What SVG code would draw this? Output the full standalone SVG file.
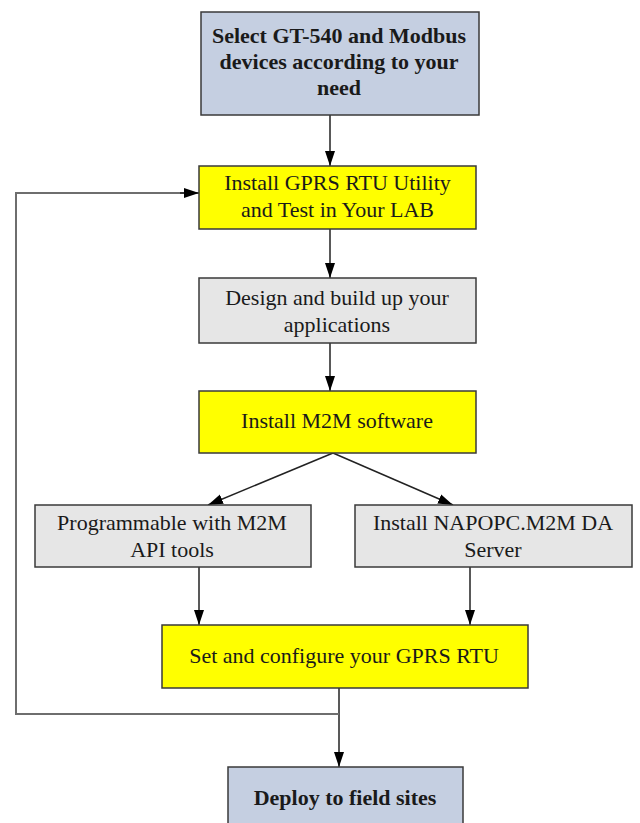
<svg xmlns="http://www.w3.org/2000/svg" width="640" height="823" viewBox="0 0 640 823">
<style>
  .box{stroke:#3a3a3a;stroke-width:1.5}
  .blue{fill:#c5cfe1}
  .yel{fill:#ffff00}
  .gry{fill:#e6e6e6}
  text{font-family:"Liberation Serif","Times New Roman",serif;font-size:22px;fill:#1a1a1a;text-anchor:middle}
  .b{font-weight:bold}
  .c{stroke:#222;stroke-width:1.5;fill:none}
  .fb{stroke:#6e6e6e;stroke-width:2;fill:none}
</style>
<defs>
  <marker id="ah" markerUnits="userSpaceOnUse" markerWidth="15" markerHeight="12" viewBox="0 0 15 12" refX="15" refY="6" orient="auto">
    <path d="M0,1 L15,6 L0,11 Z" fill="#000"/>
  </marker>
</defs>
<rect width="640" height="823" fill="#fff"/>
<g id="connectors">
  <line class="c" x1="330" y1="115" x2="330" y2="166" marker-end="url(#ah)"/>
  <line class="c" x1="330" y1="229" x2="330" y2="278" marker-end="url(#ah)"/>
  <line class="c" x1="330" y1="343" x2="330" y2="391" marker-end="url(#ah)"/>
  <line class="c" x1="333" y1="453" x2="208" y2="505" marker-end="url(#ah)"/>
  <line class="c" x1="333" y1="453" x2="453" y2="505" marker-end="url(#ah)"/>
  <line class="c" x1="199" y1="567" x2="199" y2="625" marker-end="url(#ah)"/>
  <line class="c" x1="470" y1="567" x2="470" y2="625" marker-end="url(#ah)"/>
  <line class="c" x1="339" y1="688" x2="339" y2="767" marker-end="url(#ah)"/>
  <polyline class="fb" points="339,714 16,714 16,193 186,193"/>
  <line class="c" x1="180" y1="193" x2="199" y2="193" marker-end="url(#ah)"/>
</g>
<g id="n1">
  <rect class="box blue" x="201" y="12" width="278" height="103"/>
  <text class="b" x="339" y="43">Select GT-540 and Modbus</text>
  <text class="b" x="339" y="69">devices according to your</text>
  <text class="b" x="339" y="95">need</text>
</g>
<g id="n2">
  <rect class="box yel" x="199" y="166" width="277" height="63"/>
  <text x="337.5" y="190">Install GPRS RTU Utility</text>
  <text x="337.5" y="217">and Test in Your LAB</text>
</g>
<g id="n3">
  <rect class="box gry" x="199" y="278" width="277" height="65"/>
  <text x="337" y="305">Design and build up your</text>
  <text x="337" y="332">applications</text>
</g>
<g id="n4">
  <rect class="box yel" x="199" y="391" width="277" height="62"/>
  <text x="337" y="428">Install M2M software</text>
</g>
<g id="n5">
  <rect class="box gry" x="35" y="505" width="276" height="62"/>
  <text x="172" y="530">Programmable with M2M</text>
  <text x="172" y="557">API tools</text>
</g>
<g id="n6">
  <rect class="box gry" x="355" y="505" width="277" height="62"/>
  <text x="493" y="530">Install NAPOPC.M2M DA</text>
  <text x="493" y="557">Server</text>
</g>
<g id="n7">
  <rect class="box yel" x="162" y="625" width="366" height="63"/>
  <text x="344" y="663">Set and configure your GPRS RTU</text>
</g>
<g id="n8">
  <rect class="box blue" x="228" y="767" width="235" height="70"/>
  <text class="b" x="345" y="805">Deploy to field sites</text>
</g>
</svg>
